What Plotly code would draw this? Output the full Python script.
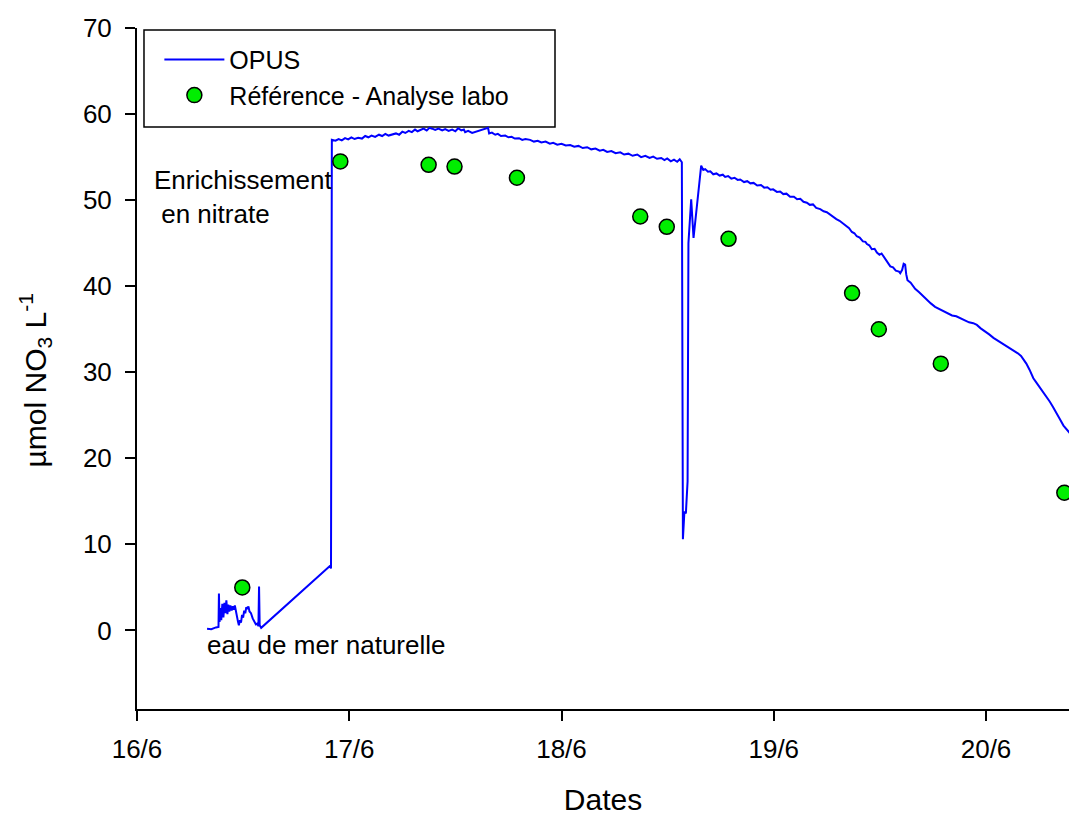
import plotly.graph_objects as go

# ---- Data (x in days of June, y in µmol NO3 L-1) ----
opus_day = [
    16.330, 16.350, 16.372, 16.384, 16.386, 16.389, 16.393, 16.397, 16.402, 16.407,
    16.412, 16.417, 16.421, 16.426, 16.430, 16.435, 16.440, 16.446, 16.451, 16.456,
    16.461, 16.466, 16.471, 16.476, 16.480, 16.485, 16.490, 16.495, 16.500, 16.505,
    16.510, 16.515, 16.520, 16.525, 16.530, 16.537, 16.545, 16.552, 16.560, 16.567,
    16.572, 16.575, 16.578, 16.585, 16.910, 16.914, 16.915,
    16.918, 16.935, 16.950, 16.965, 16.980, 16.995, 17.010, 17.025, 17.042, 17.060,
    17.075, 17.090, 17.105, 17.122, 17.140, 17.155, 17.170, 17.185, 17.202, 17.220,
    17.235, 17.250, 17.264, 17.280, 17.295, 17.310, 17.322, 17.335, 17.350, 17.365,
    17.378, 17.391, 17.405, 17.420, 17.438, 17.452, 17.468, 17.485, 17.500, 17.513,
    17.528, 17.540, 17.546, 17.560, 17.579, 17.654, 17.659, 17.672, 17.688, 17.700,
    17.715, 17.735, 17.750, 17.765, 17.780, 17.800, 17.815, 17.830, 17.852, 17.870,
    17.888, 17.905, 17.925, 17.945, 17.961, 17.980, 18.000, 18.020, 18.041, 18.060,
    18.080, 18.100, 18.121, 18.140, 18.160, 18.180, 18.197, 18.215, 18.235, 18.255,
    18.277, 18.295, 18.315, 18.335, 18.357, 18.375, 18.395, 18.415, 18.432, 18.450,
    18.470, 18.485, 18.498, 18.515, 18.530, 18.545, 18.557, 18.567,
    18.572, 18.579, 18.586, 18.594, 18.598, 18.611, 18.622,
    18.658, 18.668, 18.677, 18.690, 18.701, 18.715, 18.730, 18.745, 18.760, 18.771,
    18.785, 18.800, 18.815, 18.830, 18.842, 18.860, 18.875, 18.890, 18.905, 18.922,
    18.940, 18.955, 18.970, 18.985, 18.997, 19.015, 19.030, 19.045, 19.060, 19.077,
    19.095, 19.110, 19.125, 19.140, 19.156, 19.170, 19.185, 19.200, 19.219, 19.235,
    19.250, 19.265, 19.280, 19.295, 19.310, 19.325, 19.344, 19.355, 19.368, 19.380,
    19.391, 19.405, 19.420, 19.432, 19.439, 19.450, 19.462, 19.475, 19.486, 19.498,
    19.508, 19.515, 19.530, 19.549, 19.562, 19.575, 19.590, 19.596, 19.605, 19.612,
    19.619, 19.624, 19.630, 19.645, 19.666, 19.685, 19.705, 19.720, 19.740, 19.760,
    19.784, 19.800, 19.820, 19.840, 19.860, 19.878, 19.900, 19.920, 19.940, 19.957,
    19.975, 19.995, 20.015, 20.035, 20.055, 20.075, 20.095, 20.110, 20.129, 20.150,
    20.165, 20.176, 20.190, 20.205, 20.223, 20.240, 20.255, 20.270, 20.286, 20.300,
    20.315, 20.330, 20.349, 20.365, 20.380, 20.396,
]
opus_value = [
    0.2, 0.15, 0.35, 0.4, 4.3, 1.0, 2.6, 1.2, 3.1, 1.5,
    3.2, 2.0, 3.5, 1.9, 3.0, 2.2, 2.9, 2.3, 2.8, 2.4,
    2.9, 2.1, 1.6, 1.0, 0.6, 1.2, 0.9, 1.8, 1.5, 2.3,
    2.0, 2.7, 2.5, 2.8, 2.2, 2.0, 1.4, 1.1, 0.7, 0.8,
    0.5, 5.1, 0.6, 0.3, 7.5, 7.2, 43.3,
    57.0, 56.9, 57.1, 56.95, 57.2, 57.05, 57.3, 57.1, 57.25, 57.15,
    57.45, 57.3, 57.5, 57.35, 57.6, 57.45, 57.7, 57.5, 57.6, 57.75,
    57.6, 57.95, 57.8, 58.05, 57.9, 58.2, 58.0, 58.15, 58.3, 58.1,
    58.4, 58.3, 58.15, 58.3, 58.1, 58.25, 58.05, 58.2, 58.0, 58.35,
    58.1, 58.2, 57.9, 58.05, 57.8, 58.4, 57.75, 57.85, 57.6, 57.7,
    57.45, 57.5, 57.3, 57.35, 57.15, 57.2, 57.0, 57.1, 57.0, 56.8,
    56.9, 56.7, 56.8, 56.55, 56.65, 56.45, 56.55, 56.35, 56.4, 56.2,
    56.3, 56.05, 56.15, 55.9, 56.0, 55.75, 55.85, 55.6, 55.7, 55.45,
    55.55, 55.3, 55.4, 55.15, 55.3, 55.0, 55.15, 54.9, 55.05, 54.8,
    54.9, 54.65, 54.85, 54.5, 54.7, 54.45, 54.75, 54.4,
    10.6, 13.8, 13.6, 17.3, 45.0, 50.1, 45.6,
    54.0, 53.5, 53.6, 53.3, 53.35, 53.0, 53.1, 52.85, 52.95, 52.7,
    52.8, 52.5, 52.6, 52.35, 52.4, 52.1, 52.2, 51.95, 52.0, 51.7,
    51.75, 51.45, 51.5, 51.2, 51.25, 50.95, 51.0, 50.7, 50.75, 50.4,
    50.4, 50.1, 50.15, 49.8, 49.7, 49.45, 49.5, 49.1, 48.95, 48.7,
    48.6, 48.3, 48.1, 47.8, 47.6, 47.3, 46.9, 46.75, 46.3, 46.15,
    45.8, 45.65, 45.2, 45.15, 44.9, 44.75, 44.3, 44.35, 43.9, 43.65,
    43.8, 43.5, 43.0, 42.3, 42.2, 41.8, 41.7, 41.5, 41.9, 42.6,
    42.5, 41.4, 40.7, 40.4, 39.7, 39.3, 38.8, 38.4, 38.0, 37.6,
    37.3, 37.1, 36.9, 36.6, 36.5, 36.3, 36.0, 35.8, 35.7, 35.5,
    35.1, 34.8, 34.4, 34.0, 33.7, 33.4, 33.1, 32.9, 32.6, 32.2,
    31.9, 31.5, 31.0, 30.3, 29.3, 28.7, 28.2, 27.7, 27.2, 26.6,
    26.0, 25.4, 24.5, 23.8, 23.3, 22.9,
]

ref_day = [16.496, 16.958, 17.374, 17.496, 17.790, 18.371, 18.496, 18.787,
           19.369, 19.495, 19.787, 20.369]
ref_value = [5.0, 54.5, 54.1, 53.9, 52.6, 48.1, 46.9, 45.5, 39.2, 35.0, 31.0, 16.0]

tick_days = [16, 17, 18, 19, 20]
tick_labels = ["16/6", "17/6", "18/6", "19/6", "20/6"]

FONT = "Arial, Liberation Sans, sans-serif"
FS = 26

fig = go.Figure()
fig.add_trace(go.Scatter(
    x=opus_day, y=opus_value, mode="lines", name="OPUS",
    line=dict(color="#0000FF", width=2),
))
fig.add_trace(go.Scatter(
    x=ref_day, y=ref_value, mode="markers", name="Référence - Analyse labo",
    marker=dict(color="#00EE00", size=15, line=dict(color="black", width=1.5)),
))

# legend box drawn as a shape (paper coords)
fig.add_shape(type="rect", xref="paper", yref="paper",
              x0=0.0075, x1=0.4485, y0=0.8546, y1=0.997,
              line=dict(color="black", width=1.5), fillcolor="white", layer="below")

fig.add_annotation(x=16.07, y=50.4, xref="x", yref="y",
                   text="Enrichissement<br> en nitrate", showarrow=False,
                   xanchor="left", yanchor="middle", align="left",
                   font=dict(family=FONT, size=FS, color="black"))
fig.add_annotation(x=16.32, y=-1.66, xref="x", yref="y",
                   text="eau de mer naturelle", showarrow=False,
                   xanchor="left", yanchor="middle", align="left",
                   font=dict(family=FONT, size=FS, color="black"))
# y-axis title placed as rotated text
fig.add_annotation(x=-0.109, y=0.483, xref="paper", yref="paper",
                   text="µmol NO<sub>3</sub> L<sup>-1</sup>", showarrow=False,
                   textangle=-90, xanchor="center", yanchor="middle",
                   font=dict(family=FONT, size=30, color="black"))

fig.update_layout(
    width=1069, height=816,
    margin=dict(l=137, r=0, t=28, b=107),
    paper_bgcolor="white", plot_bgcolor="white",
    font=dict(family=FONT, size=FS, color="black"),
    showlegend=True,
    legend=dict(x=0.024, y=0.987, xanchor="left", yanchor="top",
                bgcolor="rgba(0,0,0,0)", borderwidth=0, itemwidth=60,
                font=dict(family=FONT, size=25), tracegroupgap=0),
    xaxis=dict(
        range=[16, 20.391], tickmode="array", tickvals=tick_days, ticktext=tick_labels,
        showgrid=False, zeroline=False, showline=True, linecolor="black", linewidth=2,
        ticks="outside", ticklen=10, tickwidth=2, tickcolor="black",
        tickfont=dict(family=FONT, size=FS), ticklabelstandoff=6,
        title=dict(text="Dates", font=dict(family=FONT, size=30), standoff=28),
    ),
    yaxis=dict(
        range=[-9.13, 70], tickmode="array", tickvals=[0, 10, 20, 30, 40, 50, 60, 70],
        showgrid=False, zeroline=False, showline=True, linecolor="black", linewidth=2,
        ticks="outside", ticklen=10, tickwidth=2, tickcolor="black",
        tickfont=dict(family=FONT, size=FS), ticklabelstandoff=8,
    ),
)

fig.write_html("out.html")
